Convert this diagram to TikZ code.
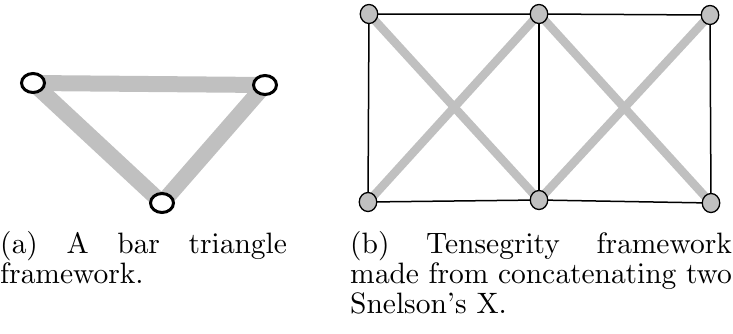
\documentclass[tikz,border=0pt]{standalone}
\usetikzlibrary{shapes.geometric}
\font\capfont=cmr10 at 29.5pt
\newcommand\capstyle{\capfont\baselineskip=30pt\relax}
\begin{document}
\begin{tikzpicture}[x=1pt,y=-1pt,
  bar/.style={line width=16pt,draw={rgb,255:red,192;green,192;blue,192}},
  xbar/.style={line width=8.5pt,draw={rgb,255:red,192;green,192;blue,192}},
  cable/.style={line width=1.5pt,draw=black},
  joint/.style={ellipse,draw=black,line width=3pt,fill=white,minimum width=23pt,minimum height=19pt,inner sep=0pt},
  gjoint/.style={ellipse,draw=black,line width=1.3pt,fill={rgb,255:red,192;green,192;blue,192},minimum width=17.5pt,minimum height=19pt,inner sep=0pt},
  captext/.style={anchor=north west,inner sep=0pt,align=justify,font=\capstyle}]
\useasboundingbox (0,0) rectangle (733,333);
% (a)
\coordinate (A) at (33,83);
\coordinate (B) at (265,85);
\coordinate (C) at (162,203);
\draw[bar] (A) -- (B);
\draw[bar] (B) -- (C);
\draw[bar] (C) -- (A);
\node[joint] (a1) at (A) {};
\node[joint] (a2) at (B) {};
\node[joint] (a3) at (C) {};
% (b)
\coordinate (P1) at (369,14);
\coordinate (P2) at (539,14);
\coordinate (P3) at (710,15);
\coordinate (Q1) at (368,202);
\coordinate (Q2) at (539,200);
\coordinate (Q3) at (711,203);
\draw[xbar] (P1) -- (Q2);
\draw[xbar] (Q1) -- (P2);
\draw[xbar] (P2) -- (Q3);
\draw[xbar] (Q2) -- (P3);
\draw[cable] (P1) -- (P2) -- (P3) -- (Q3) -- (Q2) -- (Q1) -- cycle;
\draw[cable] (P2) -- (Q2);
\node[gjoint] (b1) at (P1) {};
\node[gjoint] (b2) at (P2) {};
\node[gjoint] (b3) at (P3) {};
\node[gjoint] (b4) at (Q1) {};
\node[gjoint] (b5) at (Q2) {};
\node[gjoint] (b6) at (Q3) {};
% captions
\node[captext,text width=287pt] (ca) at (0,231) {\baselineskip=30pt\relax (a) A bar triangle framework.};
\node[captext,text width=382pt] (cb) at (350,231) {\baselineskip=30pt\relax (b) Tensegrity framework made from concatenating two Snelson's X.};
\end{tikzpicture}
\end{document}
